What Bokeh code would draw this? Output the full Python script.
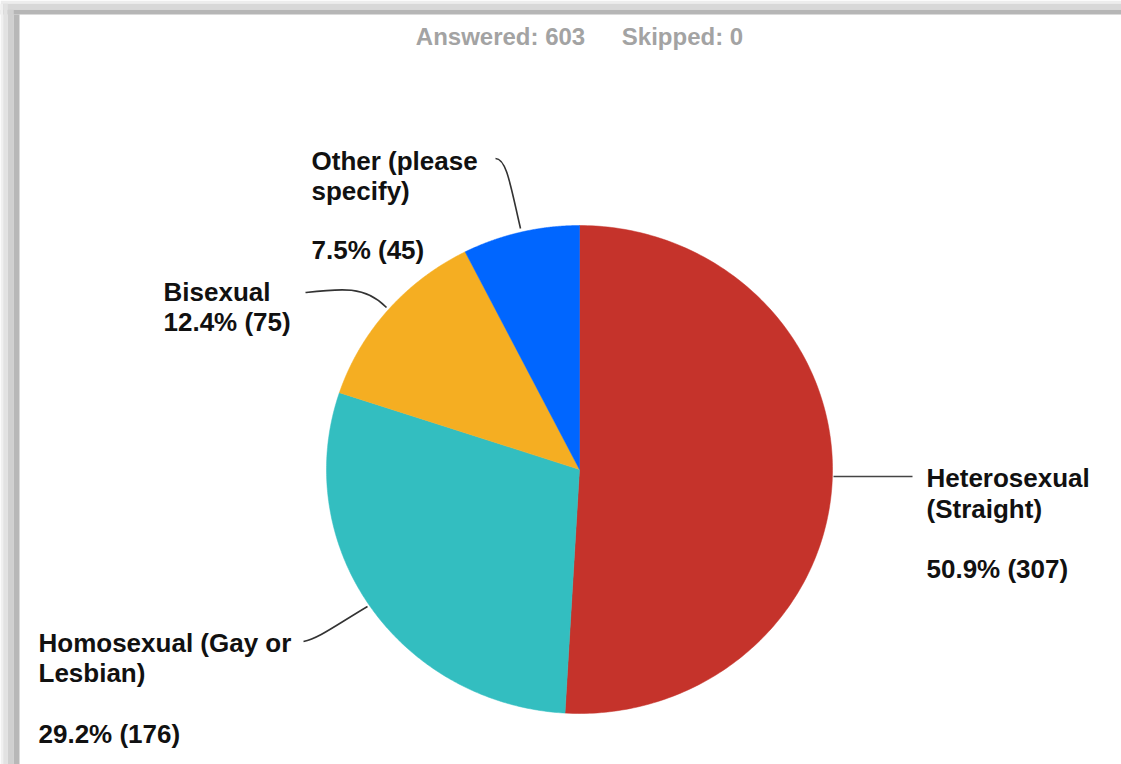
import numpy as np
from bokeh.plotting import figure
from bokeh.models import Range1d
from bokeh.core.properties import value
from bokeh.embed import file_html
from bokeh.resources import INLINE

# ---- data ----
categories = ["Heterosexual (Straight)", "Homosexual (Gay or Lesbian)", "Bisexual", "Other (please specify)"]
label_lines = [["Heterosexual", "(Straight)"], ["Homosexual (Gay or", "Lesbian)"], ["Bisexual"], ["Other (please", "specify)"]]
counts = [307, 176, 75, 45]
skipped = 0
colors = ["#C5332B", "#33BEC0", "#F5AE22", "#0066FF"]

answered = sum(counts)
pcts = [100.0 * c / answered for c in counts]

W, H = 1121, 764
p = figure(width=W, height=H, output_backend="svg", toolbar_location=None,
           x_range=Range1d(0, W), y_range=Range1d(H, 0), min_border=0)
p.axis.visible = False
p.grid.visible = False
p.outline_line_color = None
p.background_fill_color = "white"
p.border_fill_color = "white"

# frame shadow bands (decoration)
p.quad(left=[0, 0, 0], right=[W, W, W], top=[0, 3.3, 9.3], bottom=[3.3, 9.3, 14],
       fill_color=["#ededed", "#d8d8d8", "#b6b6b6"], line_color=None)
p.quad(left=[0, 2.7, 7.3, 13.3], right=[2.7, 7.3, 13.3, 19], top=[3.3, 3.3, 9.3, 14], bottom=[H, H, H, H],
       fill_color=["#f0f0f0", "#e2e2e2", "#d0d0d0", "#b8b8b8"], line_color=None)

# header
font = value("Liberation Sans")
p.text(x=[500, 682], y=[36, 36], text=[f"Answered: {answered}", f"Skipped: {skipped}"],
       text_font=font, text_font_style="bold", text_font_size="24px", text_color="#a3a3a3",
       text_align="center", text_baseline="middle")

# pie (clockwise from 12 o'clock), slightly elliptical like the reference
cx, cy, rx, ry = 579, 469, 253, 244
fr = np.array(counts, dtype=float) / answered
ends = np.cumsum(fr) * 2 * np.pi
starts = ends - fr * 2 * np.pi
xs, ys = [], []
for a0, a1 in zip(starts, ends):
    t = np.linspace(a0, a1, 200)
    xs.append(np.concatenate([[cx], cx + rx * np.sin(t), [cx]]))
    ys.append(np.concatenate([[cy], cy - ry * np.cos(t), [cy]]))
p.patches(xs=xs, ys=ys, fill_color=colors, line_color=colors, line_width=0.5)

# leader lines
p.segment(x0=[833], y0=[476], x1=[912], y1=[476], line_color="#444444", line_width=1.6)
p.bezier(x0=[520, 386, 367], y0=[228, 307, 606],
         x1=[495, 305, 303], y1=[158, 292, 641],
         cx0=[510, 365, 335], cy0=[185, 285, 625],
         cx1=[506, 340, 318], cy1=[158, 288, 638],
         line_color="#333333", line_width=1.6)

# labels
lab_font = "26px"
def put(x, y, s):
    p.text(x=[x], y=[y], text=[s], text_font=font, text_font_style="bold",
           text_font_size=lab_font, text_color="#111111", text_align="left", text_baseline="middle")

# Heterosexual
put(926, 477, label_lines[0][0]); put(926, 508, label_lines[0][1])
put(926, 568, f"{pcts[0]:.1f}% ({counts[0]})")
# Homosexual
put(38, 642, label_lines[1][0]); put(38, 672, label_lines[1][1])
put(38, 733, f"{pcts[1]:.1f}% ({counts[1]})")
# Bisexual
put(163, 291, label_lines[2][0])
put(163, 321, f"{pcts[2]:.1f}% ({counts[2]})")
# Other
put(311, 160, label_lines[3][0]); put(311, 190, label_lines[3][1])
put(311, 249, f"{pcts[3]:.1f}% ({counts[3]})")

open("out.html", "w").write(file_html(p, INLINE))
